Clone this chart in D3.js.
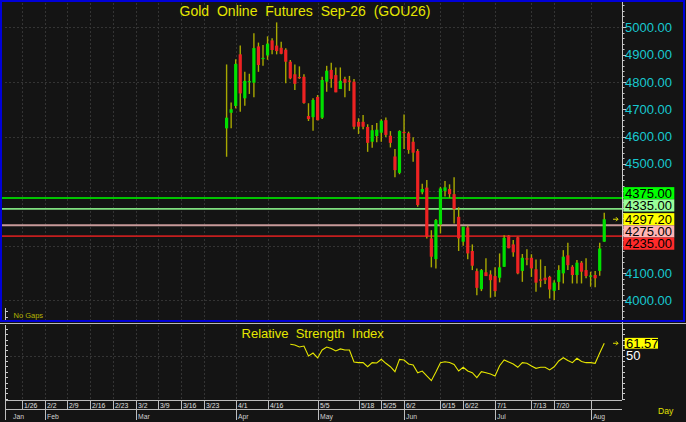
<!DOCTYPE html>
<html><head><meta charset="utf-8">
<script src="https://cdn.jsdelivr.net/npm/d3@7"></script>
<style>
html,body{margin:0;padding:0;background:#141414;overflow:hidden;}
svg{display:block;font-family:"Liberation Sans",Arial,sans-serif;}
</style></head><body>
<svg id="c" width="686" height="422"></svg>
<script>
// ---------------- DATA ----------------
const chartTitle = "Gold Online Futures Sep-26 (GOU26)";
const rsiTitle = "Relative Strength Index";
const firstSlot = 45; // trading-day slot of the first candle
const opens  = [4630,4687,4712,4901,4740,4801,4797,4930,4886,4897,4952,4933,4925,4918,4874,4828,4818,4819,4675,4671,4745,4669,4801,4844,4825,4774,4811,4805,4801,4654,4654,4635,4581,4602,4614,4660,4603,4527,4467,4617,4612,4581,4547,4396,4413,4227,4151,4278,4401,4408,4389,4306,4215,4267,4181,4107,4041,4103,4095,4089,4083,4123,4237,4205,4231,4108,4154,4156,4114,4077,4083,4086,4035,4068,4099,4165,4123,4093,4138,4111,4090,4093,4108,4215];
const highs  = [4864,4725,4883,4933,4837,4830,4978,4944,4935,4967,4960,5018,4947,4923,4880,4864,4857,4828,4722,4740,4752,4819,4859,4870,4853,4853,4819,4822,4811,4667,4679,4645,4642,4650,4663,4670,4620,4554,4623,4681,4618,4597,4554,4427,4441,4257,4298,4416,4437,4425,4451,4341,4270,4273,4205,4117,4115,4154,4110,4121,4172,4239,4239,4221,4233,4170,4187,4169,4150,4150,4126,4090,4074,4129,4184,4211,4129,4148,4144,4154,4105,4108,4211,4321];
const lows   = [4526,4630,4703,4691,4713,4756,4744,4837,4859,4881,4901,4901,4901,4795,4810,4770,4811,4720,4657,4621,4659,4664,4764,4779,4762,4774,4744,4767,4627,4609,4627,4544,4559,4579,4581,4598,4560,4451,4462,4554,4537,4508,4343,4389,4227,4121,4117,4245,4380,4376,4282,4181,4200,4151,4111,4019,4034,4089,4010,4013,4066,4123,4191,4160,4096,4068,4129,4086,4032,4048,4060,4007,4001,4038,4062,4111,4062,4062,4062,4081,4050,4048,4090,4215];
const closes = [4669,4700,4866,4758,4804,4803,4924,4862,4888,4940,4917,4913,4903,4874,4813,4793,4814,4723,4664,4734,4660,4807,4841,4811,4762,4804,4797,4801,4636,4636,4636,4577,4623,4625,4658,4606,4577,4477,4620,4614,4551,4541,4349,4408,4233,4160,4294,4410,4414,4389,4334,4227,4270,4172,4127,4046,4111,4089,4074,4034,4121,4229,4191,4176,4099,4156,4150,4117,4065,4072,4074,4040,4065,4111,4160,4129,4093,4138,4105,4089,4091,4081,4190,4297.2];
const rsiStart = 14; // RSI begins at this candle index
const rsiValues = [60.6,60.0,58.1,59.0,49.7,52.5,47.9,55.3,58.1,56.7,54.4,56.3,55.3,55.3,44.1,43.5,43.5,39.7,43.5,43.2,46.6,42.9,39.7,35.1,46.6,46.0,42.3,41.3,34.1,35.7,31.1,26.7,34.8,43.5,44.4,43.7,41.8,35.7,39.2,35.7,34.1,29.5,35.1,34.1,32.9,31.1,40.7,46.0,44.1,42.3,39.2,43.5,42.9,40.4,38.2,39.2,39.2,36.7,39.7,45.1,48.1,45.5,43.5,47.6,44.6,43.5,43.5,42.9,52.5,61.57];
const priceTicks = [4000,4100,4200,4300,4400,4500,4600,4700,4800,4900,5000];
const priceGrid = [4000,4200,4400,4600,4800,5000];
const levelValues = [4375,4335,4275,4235];
const lastPrice = 4297.2;
const lastRsi = 61.57;
const weekLabels = ["1/26","2/2","2/9","2/16","2/23","3/2","3/9","3/16","3/23","4/1","4/16","5/5","5/18","5/25","6/2","6/15","6/22","7/1","7/13","7/20",""];
const weekSlots  = [0,5,10,15,20,25,30,35,40,47,54,65,74,79,84,92,97,104,112,117,125];
const monthLabels = ["Jan","Feb","Mar","Apr","May","Jun","Jul","Aug"];
const monthSlots  = [-2,5,25,47,65,84,104,125];

// ---------------- DRAW ----------------
const W=686,H=422;
const svg=d3.select("#c");
const x=d3.scaleLinear().domain([-3.7,131.9]).range([5,622]);
const y=d3.scaleLinear().domain([3928.2,5092.7]).range([320,2]);
const yr=d3.scaleLinear().domain([8.7,78.6]).range([400,325]);
const levelStyle={4375:{line:"#00c400",box:"#00ff00",w:1.8},4335:{line:"#80e080",box:"#99ff99",w:1.6},4275:{line:"#c89a9a",box:"#ffb4b4",w:2},4235:{line:"#c41e1e",box:"#ff2a2a",w:1.8}};

svg.append("rect").attr("width",W).attr("height",H).attr("fill","#141414");

// grid
const grid=svg.append("g").attr("stroke","#343434").attr("stroke-width",1).attr("stroke-dasharray","2,2");
priceGrid.forEach(p=>grid.append("line").attr("x1",5).attr("x2",622).attr("y1",Math.round(y(p))+0.5).attr("y2",Math.round(y(p))+0.5));
weekSlots.forEach(s=>{
  const xx=Math.round(x(s))+0.5;
  grid.append("line").attr("x1",xx).attr("x2",xx).attr("y1",3).attr("y2",320);
  grid.append("line").attr("x1",xx).attr("x2",xx).attr("y1",325).attr("y2",400);
});
grid.append("line").attr("x1",6).attr("x2",622).attr("y1",Math.round(yr(50))+0.5).attr("y2",Math.round(yr(50))+0.5);

// level lines
levelValues.forEach(v=>{
  svg.append("line").attr("x1",2).attr("x2",622).attr("y1",y(v)).attr("y2",y(v))
    .attr("stroke",levelStyle[v].line).attr("stroke-width",levelStyle[v].w);
});

// candles
const candles=opens.map((o,i)=>({i,o,h:highs[i],l:lows[i],c:closes[i]}));
const cg=svg.append("g");
cg.selectAll("line.w").data(candles).join("line")
  .attr("x1",d=>x(firstSlot+d.i)).attr("x2",d=>x(firstSlot+d.i))
  .attr("y1",d=>y(d.h)).attr("y2",d=>y(d.l))
  .attr("stroke","#a8a800").attr("stroke-width",1.4);
cg.selectAll("rect.b").data(candles).join("rect")
  .attr("x",d=>x(firstSlot+d.i)-1.6).attr("width",3.2)
  .attr("y",d=>Math.min(y(d.o),y(d.c)))
  .attr("height",d=>Math.max(1.2,Math.abs(y(d.o)-y(d.c))))
  .attr("fill",d=>d.c>=d.o?"#00e000":"#ee2222");

// right axis main
const ax=svg.append("g");
ax.append("line").attr("x1",622.5).attr("x2",622.5).attr("y1",2).attr("y2",400).attr("stroke","#c8c8c8");
d3.range(3940,5081,20).forEach(p=>{
  const yy=Math.round(y(p))+0.5, major=p%100===0;
  ax.append("line").attr("x1",622.5).attr("x2",major?626:624.5).attr("y1",yy).attr("y2",yy).attr("stroke","#c8c8c8");
});
// left axis ticks
ax.append("line").attr("x1",5.5).attr("x2",5.5).attr("y1",325).attr("y2",400).attr("stroke","#c8c8c8");
d3.range(10,80,5).forEach(v=>{
  const yy=Math.round(yr(v))+0.5;
  ax.append("line").attr("x1",5.5).attr("x2",8).attr("y1",yy).attr("y2",yy).attr("stroke","#c8c8c8");
  ax.append("line").attr("x1",622.5).attr("x2",625).attr("y1",yy).attr("y2",yy).attr("stroke","#c8c8c8");
});
[3940,3960].forEach(p=>{const yy=Math.round(y(p))+0.5;ax.append("line").attr("x1",5.5).attr("x2",8).attr("y1",yy).attr("y2",yy).attr("stroke","#c8c8c8");});
ax.append("line").attr("x1",5.5).attr("x2",5.5).attr("y1",308).attr("y2",320).attr("stroke","#c8c8c8");

// label boxes (stacked around last price)
const boxH=12.2;
const all=[...levelValues,lastPrice].sort((a,b)=>b-a);
const ai=all.indexOf(lastPrice);
const cen={}; cen[lastPrice]=y(lastPrice);
for(let k=ai-1;k>=0;k--){cen[all[k]]=Math.min(y(all[k]),cen[all[k+1]]-boxH-(k===ai-1?1.6:0));}
for(let k=ai+1;k<all.length;k++){cen[all[k]]=Math.max(y(all[k]),cen[all[k-1]]+boxH);}

// price labels (those hidden behind the boxes are not drawn)
const visibleTicks=priceTicks.filter(t=>all.every(v=>Math.abs(y(t)-cen[v])>boxH/2+4));
svg.append("g").selectAll("text").data(visibleTicks).join("text")
  .attr("x",625).attr("y",d=>y(d)+4.6).attr("font-size",13).attr("fill","#18c8d0")
  .text(d=>d.toFixed(2));

all.forEach(v=>{
  const fill=v===lastPrice?"#ffff00":levelStyle[v].box;
  svg.append("rect").attr("x",623.3).attr("y",cen[v]-boxH/2).attr("width",51).attr("height",boxH).attr("fill",fill);
  svg.append("text").attr("x",625).attr("y",cen[v]+4.6).attr("font-size",13).attr("fill","#000").text(v.toFixed(2));
});

// arrows
function arrow(yy){
  svg.append("path").attr("d",`M613,${yy}H618M616,${yy-2}L618,${yy}L616,${yy+2}`)
    .attr("stroke","#e0e000").attr("fill","none").attr("stroke-width",1);
}
arrow(y(lastPrice));
arrow(yr(lastRsi));

// titles
svg.append("text").attr("x",305).attr("y",16).attr("text-anchor","middle").attr("font-size",14)
  .attr("word-spacing",4).attr("fill","#e6e600").text(chartTitle);
svg.append("text").attr("x",312.7).attr("y",338.3).attr("text-anchor","middle").attr("font-size",13)
  .attr("word-spacing",3.6).attr("fill","#e6e600").text(rsiTitle);
svg.append("text").attr("x",13.5).attr("y",318).attr("font-size",7.5).attr("fill","#b4b400").text("No Gaps");

// RSI line
const rsiPts=rsiValues.map((v,k)=>[x(firstSlot+rsiStart+k),yr(v)]);
svg.append("path").attr("d",d3.line()(rsiPts)).attr("fill","none").attr("stroke","#e6e600").attr("stroke-width",1.1);
svg.append("rect").attr("x",624.7).attr("y",yr(lastRsi)-5.4).attr("width",33.3).attr("height",10.8).attr("fill","#ffff00");
svg.append("text").attr("x",626).attr("y",yr(lastRsi)+4.6).attr("font-size",13).attr("fill","#000").text(lastRsi.toFixed(2));
svg.append("text").attr("x",626).attr("y",yr(50)+4.6).attr("font-size",13).attr("fill","#ffffff").text("50");

// date axis
const da=svg.append("g").attr("stroke","#bdbdbd").attr("stroke-width",1);
da.append("line").attr("x1",5).attr("x2",622).attr("y1",400.5).attr("y2",400.5);
da.append("line").attr("x1",5).attr("x2",622).attr("y1",409.5).attr("y2",409.5);
da.append("line").attr("x1",5.5).attr("x2",5.5).attr("y1",400).attr("y2",420);
weekSlots.forEach(s=>{const xx=Math.round(x(s))+0.5;da.append("line").attr("x1",xx).attr("x2",xx).attr("y1",400).attr("y2",409.5);});
monthSlots.forEach((s,k)=>{if(k===0)return;const xx=Math.round(x(s))+0.5;da.append("line").attr("x1",xx).attr("x2",xx).attr("y1",409.5).attr("y2",420);});
svg.append("g").selectAll("text").data(weekLabels).join("text")
  .attr("x",(d,k)=>Math.round(x(weekSlots[k]))+2).attr("y",408).attr("font-size",6.8).attr("fill","#e0e0e0").text(d=>d);
svg.append("g").selectAll("text").data(monthLabels).join("text")
  .attr("x",(d,k)=>k===0?13:Math.round(x(monthSlots[k]))+2).attr("y",418.5).attr("font-size",6.8).attr("fill","#d0d0d0").text(d=>d);
svg.append("text").attr("x",658).attr("y",413.5).attr("font-size",8.6).attr("fill","#e0e000").text("Day");

// borders
svg.append("rect").attr("x",1).attr("y",1).attr("width",683).attr("height",320).attr("fill","none").attr("stroke","#0000d8").attr("stroke-width",2);
svg.append("line").attr("x1",0).attr("x2",686).attr("y1",323.5).attr("y2",323.5).attr("stroke","#b8b8b8");
</script>
</body></html>
